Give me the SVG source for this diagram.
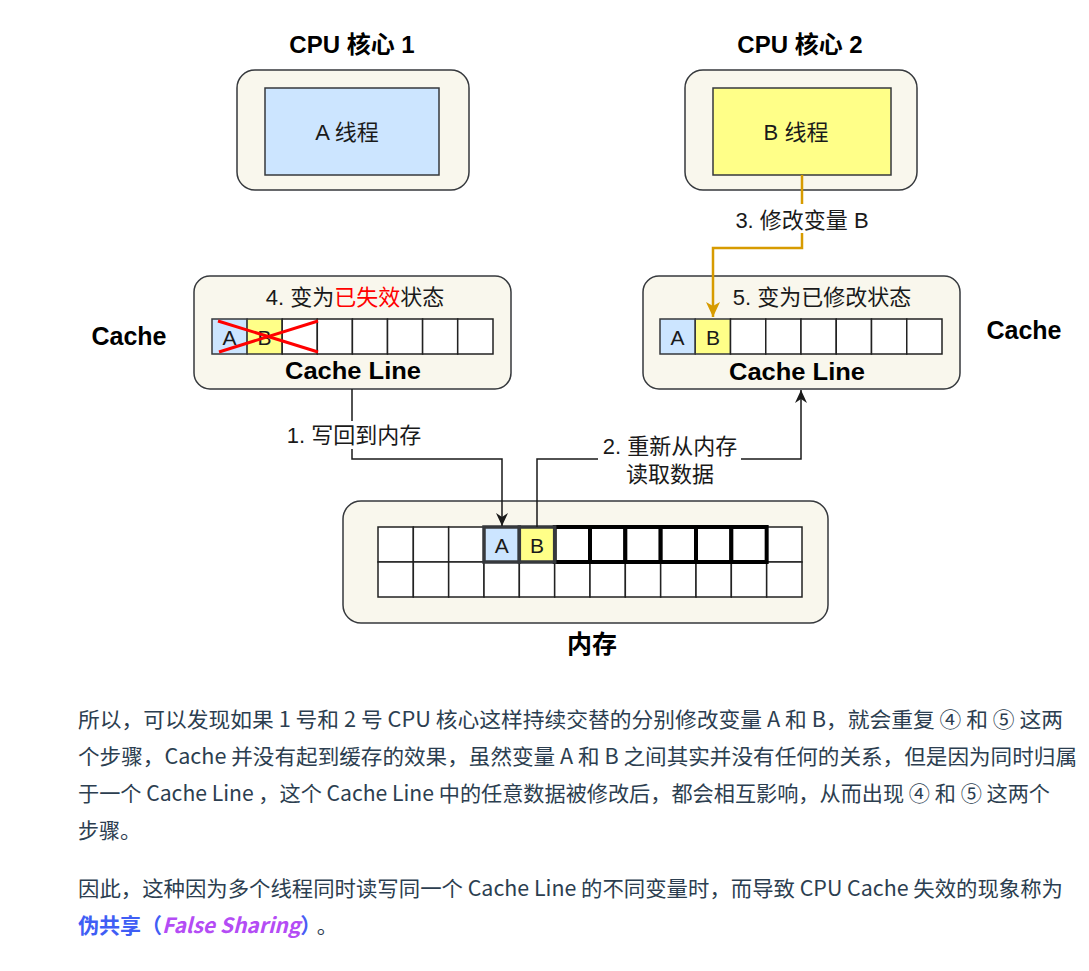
<svg xmlns="http://www.w3.org/2000/svg" width="1089" height="971" viewBox="0 0 1089 971">
<style>
.box{fill:#f9f7ed;stroke:#36393d;stroke-width:1.5}
.cell{fill:#ffffff;stroke:#222;stroke-width:1.5}
.blue{fill:#cce5ff;stroke:#36393d;stroke-width:1.5}
.yel{fill:#ffff88;stroke:#36393d;stroke-width:1.5}
.lbl{font-family:"Liberation Sans","Noto Sans CJK SC",sans-serif;font-size:22px;fill:#1a1a1a;text-anchor:middle}
.ttl{font-family:"Liberation Sans","Noto Sans CJK SC",sans-serif;font-size:24px;font-weight:bold;fill:#000;text-anchor:middle}
.body{font-family:"Noto Sans CJK SC",sans-serif;font-size:21px;fill:#2c3e50}
.conn{fill:none;stroke:#1a1a1a;stroke-width:1.5}
.orange{fill:none;stroke:#d79b00;stroke-width:2.5}
</style>
<defs>
<marker id="arr" markerUnits="userSpaceOnUse" markerWidth="14" markerHeight="14" viewBox="0 0 14 14" refX="13" refY="7" orient="auto">
<path d="M0,1 L13,7 L0,13 L4,7 z" fill="#1a1a1a"/>
</marker>
<marker id="arrO" markerUnits="userSpaceOnUse" markerWidth="16" markerHeight="16" viewBox="0 0 16 16" refX="15" refY="8" orient="auto">
<path d="M0,1 L15,8 L0,15 L4,8 z" fill="#d79b00"/>
</marker>
</defs>
<rect width="1089" height="971" fill="#ffffff"/>

<g id="cpu1">
<text class="ttl" x="352" y="53">CPU 核心 1</text>
<rect class="box" x="237" y="70" width="232" height="120" rx="18"/>
<rect class="blue" x="265" y="88" width="174" height="87"/>
<text class="lbl" x="347" y="140">A 线程</text>
</g>

<g id="cpu2">
<text class="ttl" x="800" y="53">CPU 核心 2</text>
<rect class="box" x="685" y="70" width="232" height="120" rx="18"/>
<rect class="yel" x="713" y="88" width="178" height="87"/>
<text class="lbl" x="796" y="140">B 线程</text>
</g>

<g id="cache-label-left"><text class="ttl" x="129" y="345" style="font-size:25px">Cache</text></g>
<g id="cache-label-right"><text class="ttl" x="1024" y="339" style="font-size:25px">Cache</text></g>

<g id="cache1">
<rect class="box" x="194" y="276" width="317" height="113" rx="16"/>
<text class="lbl" x="355" y="305">4. 变为<tspan fill="#ff0000">已失效</tspan>状态</text>
<rect class="blue" x="212" y="319" width="35.1" height="35"/>
<rect class="yel" x="247.1" y="319" width="35.1" height="35"/>
<rect class="cell" x="282.2" y="319" width="35.1" height="35"/>
<rect class="cell" x="317.3" y="319" width="35.1" height="35"/>
<rect class="cell" x="352.4" y="319" width="35.1" height="35"/>
<rect class="cell" x="387.5" y="319" width="35.1" height="35"/>
<rect class="cell" x="422.6" y="319" width="35.1" height="35"/>
<rect class="cell" x="457.7" y="319" width="35.3" height="35"/>
<text class="lbl" x="229.5" y="345" style="font-size:21px">A</text>
<text class="lbl" x="264.6" y="345" style="font-size:21px">B</text>
<line x1="218" y1="321" x2="318" y2="352" stroke="#ff0000" stroke-width="3"/>
<line x1="219" y1="352" x2="318" y2="321" stroke="#ff0000" stroke-width="3"/>
<text class="ttl" x="353" y="379" textLength="136" lengthAdjust="spacingAndGlyphs">Cache Line</text>
</g>

<g id="cache2">
<rect class="box" x="643" y="276" width="317" height="113" rx="16"/>
<text class="lbl" x="822" y="305">5. 变为已修改状态</text>
<rect class="blue" x="660" y="319" width="35.25" height="35"/>
<rect class="yel" x="695.25" y="319" width="35.25" height="35"/>
<rect class="cell" x="730.5" y="319" width="35.25" height="35"/>
<rect class="cell" x="765.75" y="319" width="35.25" height="35"/>
<rect class="cell" x="801" y="319" width="35.25" height="35"/>
<rect class="cell" x="836.25" y="319" width="35.25" height="35"/>
<rect class="cell" x="871.5" y="319" width="35.25" height="35"/>
<rect class="cell" x="906.75" y="319" width="35.25" height="35"/>
<text class="lbl" x="677.6" y="345" style="font-size:21px">A</text>
<text class="lbl" x="712.9" y="345" style="font-size:21px">B</text>
<text class="ttl" x="797" y="380" textLength="136" lengthAdjust="spacingAndGlyphs">Cache Line</text>
</g>

<g id="memory">
<rect class="box" x="343" y="501" width="485" height="122" rx="18"/>
<g>
<rect class="cell" x="378" y="527" width="35.33" height="35"/>
<rect class="cell" x="413.33" y="527" width="35.33" height="35"/>
<rect class="cell" x="448.67" y="527" width="35.33" height="35"/>
<rect class="cell" x="766" y="527" width="36" height="35"/>
<rect class="cell" x="378" y="562" width="35.33" height="35"/>
<rect class="cell" x="413.33" y="562" width="35.33" height="35"/>
<rect class="cell" x="448.67" y="562" width="35.33" height="35"/>
<rect class="cell" x="484" y="562" width="35.33" height="35"/>
<rect class="cell" x="519.33" y="562" width="35.33" height="35"/>
<rect class="cell" x="554.67" y="562" width="35.33" height="35"/>
<rect class="cell" x="590" y="562" width="35.33" height="35"/>
<rect class="cell" x="625.33" y="562" width="35.33" height="35"/>
<rect class="cell" x="660.67" y="562" width="35.33" height="35"/>
<rect class="cell" x="696" y="562" width="35.33" height="35"/>
<rect class="cell" x="731.33" y="562" width="35.33" height="35"/>
<rect class="cell" x="766.67" y="562" width="35.33" height="35"/>
</g>
<g fill="#ffffff" stroke="#000" stroke-width="4">
<rect x="554.67" y="527" width="35.33" height="35"/>
<rect x="590" y="527" width="35.33" height="35"/>
<rect x="625.33" y="527" width="35.33" height="35"/>
<rect x="660.67" y="527" width="35.33" height="35"/>
<rect x="696" y="527" width="35.33" height="35"/>
<rect x="731.33" y="527" width="35.33" height="35"/>
</g>
<rect x="484" y="527" width="35.33" height="35" fill="#cce5ff" stroke="#36393d" stroke-width="3.5"/>
<rect x="519.33" y="527" width="35.33" height="35" fill="#ffff88" stroke="#36393d" stroke-width="3.5"/>
<text class="lbl" x="501.7" y="553" style="font-size:21px">A</text>
<text class="lbl" x="537" y="553" style="font-size:21px">B</text>
<text class="ttl" x="592" y="653" style="font-size:25px">内存</text>
</g>

<g id="connectors">
<path class="orange" d="M802,175 V248 H713 V317" marker-end="url(#arrO)"/>
<path class="conn" d="M352,389 V459 H502 V526" marker-end="url(#arr)"/>
<path class="conn" d="M537,527 V459 H801 V390" marker-end="url(#arr)"/>
<rect x="731" y="204" width="142" height="29" fill="#ffffff"/>
<text class="lbl" x="802" y="228">3. 修改变量 B</text>
<rect x="283" y="421" width="142" height="28" fill="#ffffff"/>
<text class="lbl" x="354" y="443">1. 写回到内存</text>
<rect x="598" y="432" width="143" height="56" fill="#ffffff"/>
<text class="lbl" x="670" y="454">2. 重新从内存</text>
<text class="lbl" x="670" y="482">读取数据</text>
</g>

<g id="paragraph1">
<text class="body" x="78" y="727" textLength="985" lengthAdjust="spacingAndGlyphs">所以，可以发现如果 1 号和 2 号 CPU 核心这样持续交替的分别修改变量 A 和 B，就会重复 ④ 和 ⑤ 这两</text>
<text class="body" x="78" y="764" textLength="999" lengthAdjust="spacingAndGlyphs">个步骤，Cache 并没有起到缓存的效果，虽然变量 A 和 B 之间其实并没有任何的关系，但是因为同时归属</text>
<text class="body" x="78" y="801" textLength="972" lengthAdjust="spacingAndGlyphs">于一个 Cache Line ，这个 Cache Line 中的任意数据被修改后，都会相互影响，从而出现 ④ 和 ⑤ 这两个</text>
<text class="body" x="78" y="838">步骤。</text>
</g>

<g id="paragraph2">
<text class="body" x="78" y="896" textLength="985" lengthAdjust="spacingAndGlyphs">因此，这种因为多个线程同时读写同一个 Cache Line 的不同变量时，而导致 CPU Cache 失效的现象称为</text>
<text class="body" x="78" y="933"><tspan font-weight="bold" fill="#3f5ef5">伪共享（</tspan><tspan font-weight="bold" font-style="italic" fill="#b44cf5">False Sharing</tspan><tspan font-weight="bold" fill="#4a5cf5">）</tspan><tspan dx="6">。</tspan></text>
</g>
</svg>
